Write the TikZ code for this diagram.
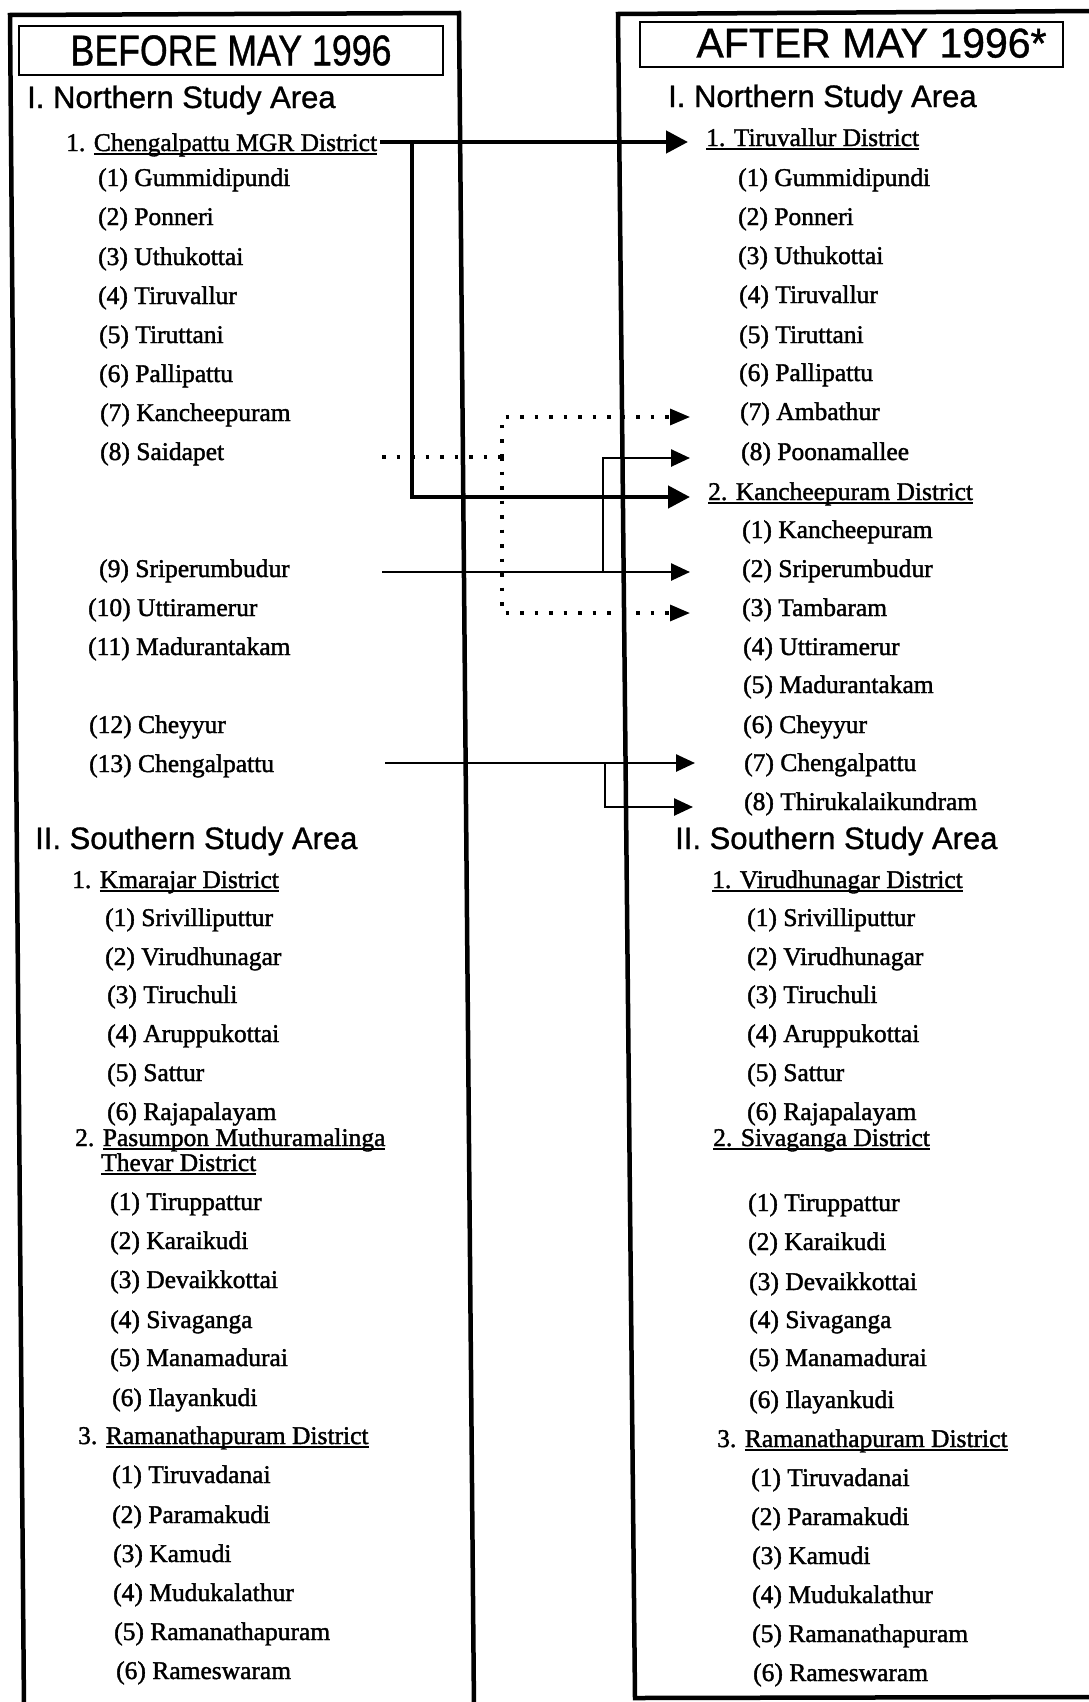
\documentclass[tikz,border=0pt]{standalone}
\usepackage{fontspec}
\usepackage{graphicx}
\usetikzlibrary{arrows.meta}
\newfontfamily\itemfont[FakeBold=1.5]{Liberation Serif}
\newfontfamily\headfont[FakeBold=1]{Liberation Sans}
\newcommand\myul[1]{\setbox0\hbox{#1}\rlap{\rule[-3.5pt]{\wd0}{1.3pt}}\box0}
\begin{document}
\begin{tikzpicture}[x=1pt,y=-1pt,
  itm/.style={anchor=base west, inner sep=0pt, font=\itemfont\fontsize{25.5}{28}\selectfont},
  sec/.style={anchor=base west, inner sep=0pt, font=\headfont\fontsize{31}{34}\selectfont},
  frm/.style={line width=4.5pt, line join=miter},
  hdr/.style={draw, line width=2pt, inner sep=0pt},
  thk/.style={line width=4.5pt, -{Triangle[length=22pt,width=22pt]}},
  thn/.style={line width=2.6pt, -{Triangle[length=19pt,width=17pt]}},
  dotl/.style={line width=3.2pt, dash pattern=on 3.5pt off 11pt},
  dota/.style={line width=3.2pt, dash pattern=on 3.5pt off 11pt, -{Triangle[length=20pt,width=16pt]}}
]
\useasboundingbox (0,0) rectangle (1088,1702);
\fill[white] (0,0) rectangle (1088,1702);

% frames
\draw[frm] (24,1710) -- (10,15) -- (459,13) -- (474,1710);
\draw[frm] (1095,11) -- (618,14) -- (635,1698) -- (1095,1697);

% headers
\node[hdr, minimum width=424pt, minimum height=49pt] (lhead) at (231,50.5)
  {\resizebox{321pt}{30pt}{\headfont BEFORE MAY 1996}};
\node[hdr, minimum width=423pt, minimum height=45pt] (rhead) at (851.5,44.5)
  {\hspace*{40pt}\raisebox{3pt}{\resizebox{350pt}{29pt}{\headfont AFTER MAY 1996*}}};

% ---------- left column ----------
\node[sec] (lsec1) at (27,108) {I. Northern Study Area};
\node[itm] (lcd) at (66,151) {1. \myul{Chengalpattu MGR District}};
\node[itm] (la1) at (98,186) {(1) Gummidipundi};
\node[itm] (la2) at (98,225) {(2) Ponneri};
\node[itm] (la3) at (98,265) {(3) Uthukottai};
\node[itm] (la4) at (98,304) {(4) Tiruvallur};
\node[itm] (la5) at (99,343) {(5) Tiruttani};
\node[itm] (la6) at (99,382) {(6) Pallipattu};
\node[itm] (la7) at (100,421) {(7) Kancheepuram};
\node[itm] (la8) at (100,460) {(8) Saidapet};
\node[itm] (la9) at (99,577) {(9) Sriperumbudur};
\node[itm] (la10) at (88,616) {(10) Uttiramerur};
\node[itm] (la11) at (88,655) {(11) Madurantakam};
\node[itm] (la12) at (89,733) {(12) Cheyyur};
\node[itm] (la13) at (89,772) {(13) Chengalpattu};
\node[sec] (lsec2) at (35,849) {II. Southern Study Area};
\node[itm] (lkd) at (72,888) {1. \myul{Kmarajar District}};
\node[itm] (lb1) at (105,926) {(1) Srivilliputtur};
\node[itm] (lb2) at (105,965) {(2) Virudhunagar};
\node[itm] (lb3) at (107,1003) {(3) Tiruchuli};
\node[itm] (lb4) at (107,1042) {(4) Aruppukottai};
\node[itm] (lb5) at (107,1081) {(5) Sattur};
\node[itm] (lb6) at (107,1120) {(6) Rajapalayam};
\node[itm] (lpd) at (75,1146) {2. \myul{Pasumpon Muthuramalinga}};
\node[itm] (lpd2) at (101,1171) {\myul{Thevar District}};
\node[itm] (lc1) at (110,1210) {(1) Tiruppattur};
\node[itm] (lc2) at (110,1249) {(2) Karaikudi};
\node[itm] (lc3) at (110,1288) {(3) Devaikkottai};
\node[itm] (lc4) at (110,1328) {(4) Sivaganga};
\node[itm] (lc5) at (110,1366) {(5) Manamadurai};
\node[itm] (lc6) at (112,1406) {(6) Ilayankudi};
\node[itm] (lrd) at (78,1444) {3. \myul{Ramanathapuram District}};
\node[itm] (ld1) at (112,1483) {(1) Tiruvadanai};
\node[itm] (ld2) at (112,1523) {(2) Paramakudi};
\node[itm] (ld3) at (113,1562) {(3) Kamudi};
\node[itm] (ld4) at (113,1601) {(4) Mudukalathur};
\node[itm] (ld5) at (114,1640) {(5) Ramanathapuram};
\node[itm] (ld6) at (116,1679) {(6) Rameswaram};

% ---------- right column ----------
\node[sec] (rsec1) at (668,107) {I. Northern Study Area};
\node[itm] (rtd) at (706,146) {\myul{1. Tiruvallur District}};
\node[itm] (ra1) at (738,186) {(1) Gummidipundi};
\node[itm] (ra2) at (738,225) {(2) Ponneri};
\node[itm] (ra3) at (738,264) {(3) Uthukottai};
\node[itm] (ra4) at (739,303) {(4) Tiruvallur};
\node[itm] (ra5) at (739,343) {(5) Tiruttani};
\node[itm] (ra6) at (739,381) {(6) Pallipattu};
\node[itm] (ra7) at (740,420) {(7) Ambathur};
\node[itm] (ra8) at (741,460) {(8) Poonamallee};
\node[itm] (rkd) at (708,500) {\myul{2. Kancheepuram District}};
\node[itm] (rb1) at (742,538) {(1) Kancheepuram};
\node[itm] (rb2) at (742,577) {(2) Sriperumbudur};
\node[itm] (rb3) at (742,616) {(3) Tambaram};
\node[itm] (rb4) at (743,655) {(4) Uttiramerur};
\node[itm] (rb5) at (743,693) {(5) Madurantakam};
\node[itm] (rb6) at (743,733) {(6) Cheyyur};
\node[itm] (rb7) at (744,771) {(7) Chengalpattu};
\node[itm] (rb8) at (744,810) {(8) Thirukalaikundram};
\node[sec] (rsec2) at (675,849) {II. Southern Study Area};
\node[itm] (rvd) at (712,888) {\myul{1. Virudhunagar District}};
\node[itm] (rc1) at (747,926) {(1) Srivilliputtur};
\node[itm] (rc2) at (747,965) {(2) Virudhunagar};
\node[itm] (rc3) at (747,1003) {(3) Tiruchuli};
\node[itm] (rc4) at (747,1042) {(4) Aruppukottai};
\node[itm] (rc5) at (747,1081) {(5) Sattur};
\node[itm] (rc6) at (747,1120) {(6) Rajapalayam};
\node[itm] (rsd) at (713,1146) {\myul{2. Sivaganga District}};
\node[itm] (rd1) at (748,1211) {(1) Tiruppattur};
\node[itm] (rd2) at (748,1250) {(2) Karaikudi};
\node[itm] (rd3) at (749,1290) {(3) Devaikkottai};
\node[itm] (rd4) at (749,1328) {(4) Sivaganga};
\node[itm] (rd5) at (749,1366) {(5) Manamadurai};
\node[itm] (rd6) at (749,1408) {(6) Ilayankudi};
\node[itm] (rrd) at (717,1447) {3. \myul{Ramanathapuram District}};
\node[itm] (re1) at (751,1486) {(1) Tiruvadanai};
\node[itm] (re2) at (751,1525) {(2) Paramakudi};
\node[itm] (re3) at (752,1564) {(3) Kamudi};
\node[itm] (re4) at (752,1603) {(4) Mudukalathur};
\node[itm] (re5) at (752,1642) {(5) Ramanathapuram};
\node[itm] (re6) at (753,1681) {(6) Rameswaram};

% ---------- connector end points ----------
\coordinate (sMGR) at (380,142);
\coordinate (jMGR) at (412,142);
\coordinate (tTD) at (688,142);
\coordinate (tKD) at (690,497);
\coordinate (sSai) at (382,457);
\coordinate (jSai) at (502,457);
\coordinate (tAmb) at (690,417);
\coordinate (tTam) at (690,613);
\coordinate (sSri) at (382,572);
\coordinate (jSri) at (603,572);
\coordinate (tSri) at (690,572);
\coordinate (tPoo) at (690,458);
\coordinate (sChe) at (385,763);
\coordinate (jChe) at (605,763);
\coordinate (tChe) at (695,763);
\coordinate (tThi) at (693,807);

% ---------- connectors ----------
\draw[thk] (sMGR) -- (tTD);
\draw[thk] (jMGR) |- (tKD);
\draw[dotl] (sSai) -- (jSai);
\draw[dota] (jSai) |- (tAmb);
\draw[dota] (jSai) |- (tTam);
\draw[thn] (sSri) -- (tSri);
\draw[thn] (jSri) |- (tPoo);
\draw[thn] (sChe) -- (tChe);
\draw[thn] (jChe) |- (tThi);
\end{tikzpicture}
\end{document}
